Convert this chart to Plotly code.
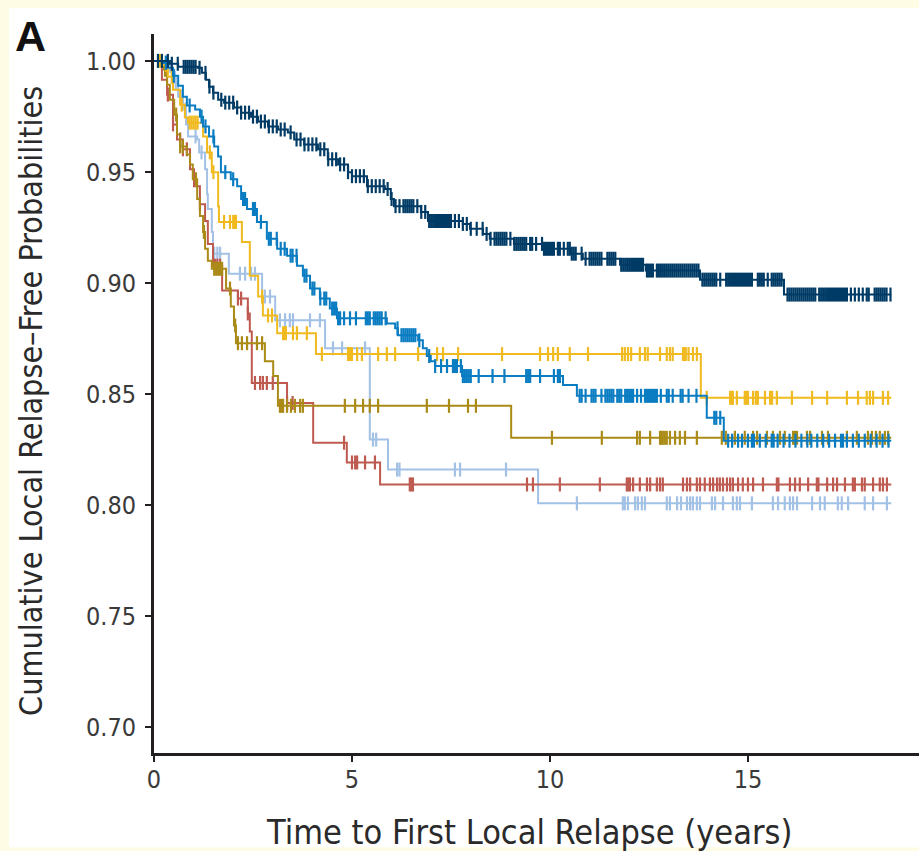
import plotly.graph_objects as go

# ---------------- data ----------------
x_tick_vals = [0, 5, 10, 15]
x_tick_text = ["0", "5", "10", "15"]
y_tick_vals = [0.70, 0.75, 0.80, 0.85, 0.90, 0.95, 1.00]
y_tick_text = ["0.70", "0.75", "0.80", "0.85", "0.90", "0.95", "1.00"]

follow_up_end = 18.62

# navy
navy_t = [0.40, 0.61, 1.11, 1.21, 1.31, 1.39, 1.49, 1.62, 1.77, 2.02, 2.20, 2.45, 2.63, 2.88,
          3.13, 3.38, 3.54, 3.79, 4.14, 4.39, 4.65, 4.90, 5.00, 5.38, 5.83, 5.98, 6.06, 6.74,
          6.92, 7.80, 7.98, 8.31, 8.48, 9.09, 9.82, 10.51, 10.83, 11.77, 12.42, 13.79, 15.91]
navy_s = [0.9987, 0.9973, 0.9969, 0.9946, 0.9915, 0.9884, 0.9857, 0.9825, 0.9812, 0.9790, 0.9767,
          0.9749, 0.9727, 0.9705, 0.9691, 0.9678, 0.9646, 0.9624, 0.9602, 0.9557, 0.9534, 0.9499,
          0.9481, 0.9436, 0.9423, 0.9378, 0.9346, 0.9320, 0.9279, 0.9266, 0.9244, 0.9221, 0.9199,
          0.9176, 0.9154, 0.9132, 0.9109, 0.9082, 0.9056, 0.9015, 0.8948]
navy_cens = [0.1, 0.2, 0.35, 0.45, 0.6, 0.75, 0.8, 0.85, 0.9, 0.95, 1.0, 1.05, 1.15, 1.3, 1.4,
             1.5, 1.7, 1.8, 1.9, 2.0, 2.1, 2.2, 2.3, 2.4, 2.5, 2.6, 2.7, 2.8, 2.9, 3.0, 3.1, 3.2,
             3.3, 3.45, 3.6, 3.7, 3.8, 3.9, 4.0, 4.1, 4.2, 4.3, 4.4, 4.5, 4.6, 4.7, 4.8, 4.9, 5.0,
             5.1, 5.2, 5.3, 5.4, 5.5, 5.6, 5.7, 5.8, 5.9, 6.0, 6.1, 6.2, 6.3, 6.35, 6.4, 6.45, 6.5,
             6.55, 6.65, 6.75, 6.85, 6.95, 7.0, 7.05, 7.1, 7.15, 7.2, 7.25, 7.3, 7.35, 7.4, 7.45,
             7.5, 7.6, 7.7, 7.8, 7.9, 8.0, 8.15, 8.3, 8.4, 8.5, 8.6, 8.65, 8.7, 8.75, 8.8, 8.85,
             8.9, 9.0, 9.1, 9.15, 9.2, 9.25, 9.3, 9.35, 9.4, 9.5, 9.55, 9.65, 9.8, 9.85, 9.9, 9.95,
             10.0, 10.05, 10.1, 10.2, 10.25, 10.35, 10.45, 10.5, 10.55, 10.6, 10.65, 10.8, 10.9,
             11.0, 11.05, 11.1, 11.15, 11.2, 11.25, 11.3, 11.45, 11.5, 11.55, 11.6, 11.65, 11.8,
             11.85, 11.9, 11.95, 12.0, 12.05, 12.1, 12.15, 12.2, 12.25, 12.3, 12.35, 12.45, 12.5,
             12.55, 12.6, 12.7, 12.75, 12.8, 12.85, 12.9, 12.95, 13.0, 13.05, 13.1, 13.15, 13.2,
             13.25, 13.3, 13.35, 13.4, 13.45, 13.5, 13.55, 13.6, 13.65, 13.7, 13.75, 13.85, 13.9,
             13.95, 14.0, 14.05, 14.1, 14.15, 14.2, 14.3, 14.45, 14.5, 14.55, 14.6, 14.65, 14.7,
             14.75, 14.8, 14.85, 14.9, 14.95, 15.0, 15.05, 15.1, 15.25, 15.3, 15.35, 15.4, 15.5,
             15.6, 15.65, 15.7, 15.75, 15.8, 15.85, 16.0, 16.05, 16.1, 16.15, 16.2, 16.25, 16.3,
             16.35, 16.4, 16.45, 16.5, 16.55, 16.6, 16.65, 16.7, 16.8, 16.85, 16.9, 16.95, 17.0,
             17.05, 17.1, 17.15, 17.2, 17.25, 17.3, 17.35, 17.4, 17.45, 17.5, 17.6, 17.7, 17.8,
             17.9, 18.0, 18.05, 18.2, 18.25, 18.3, 18.35, 18.4, 18.45, 18.5, 18.6]

# medium blue
blue_t = [0.20, 0.35, 0.48, 0.61, 0.73, 0.83, 1.04, 1.16, 1.24, 1.39, 1.52, 1.62, 1.69, 1.94,
          2.10, 2.20, 2.35, 2.60, 2.85, 3.11, 3.36, 3.61, 3.76, 3.94, 4.19, 4.44, 4.62, 5.88,
          6.09, 6.16, 6.67, 6.79, 6.89, 6.99, 7.10, 7.78, 10.33, 10.68, 13.96, 14.39]
blue_s = [0.9991, 0.9969, 0.9933, 0.9888, 0.9839, 0.9799, 0.9781, 0.9749, 0.9705, 0.9660, 0.9615,
          0.9570, 0.9499, 0.9467, 0.9436, 0.9378, 0.9333, 0.9275, 0.9199, 0.9154, 0.9123, 0.9078,
          0.9033, 0.8975, 0.8930, 0.8885, 0.8841, 0.8818, 0.8796, 0.8765, 0.8742, 0.8706, 0.8671,
          0.8648, 0.8626, 0.8581, 0.8541, 0.8492, 0.8393, 0.8290]
blue_cens = [0.3, 0.5, 0.9, 1.2, 1.3, 1.5, 1.8, 2.0, 2.25, 2.3, 2.5, 2.55, 2.7, 2.9, 2.95, 3.1,
             3.2, 3.3, 3.45, 3.5, 3.6, 3.8, 3.85, 4.0, 4.05, 4.2, 4.3, 4.35, 4.5, 4.55, 4.6, 4.65,
             4.7, 4.8, 4.95, 5.1, 5.35, 5.4, 5.45, 5.55, 5.6, 5.65, 5.7, 5.75, 5.85, 6.15, 6.25,
             6.3, 6.35, 6.4, 6.45, 6.5, 6.55, 6.6, 6.7, 6.95, 7.1, 7.25, 7.4, 7.55, 7.6, 7.65, 7.75,
             7.8, 7.85, 7.9, 7.95, 8.0, 8.2, 8.55, 8.85, 9.4, 9.45, 9.5, 9.75, 10.1, 10.2, 10.25,
             10.75, 10.8, 10.9, 11.05, 11.1, 11.15, 11.3, 11.4, 11.45, 11.5, 11.55, 11.6, 11.7,
             11.75, 11.8, 11.9, 11.95, 12.0, 12.05, 12.1, 12.2, 12.3, 12.4, 12.45, 12.5, 12.55,
             12.6, 12.65, 12.7, 12.8, 12.95, 13.0, 13.1, 13.3, 13.35, 13.5, 13.7, 14.15, 14.2, 14.3,
             14.5, 14.6, 14.75, 14.85, 15.0, 15.1, 15.15, 15.3, 15.45, 15.6, 15.65, 15.75, 15.9,
             16.05, 16.2, 16.35, 16.5, 16.6, 16.75, 16.9, 17.05, 17.2, 17.35, 17.4, 17.5, 17.65,
             17.8, 17.95, 18.1, 18.25, 18.4, 18.55]

# yellow
yellow_t = [0.23, 0.35, 0.48, 0.66, 0.78, 0.86, 1.24, 1.34, 1.46, 1.62, 1.64, 2.22, 2.42, 2.63,
            2.75, 3.11, 4.09, 13.81]
yellow_s = [0.9982, 0.9928, 0.9870, 0.9803, 0.9745, 0.9722, 0.9660, 0.9588, 0.9499, 0.9346,
            0.9275, 0.9185, 0.9033, 0.8939, 0.8854, 0.8774, 0.8680, 0.8483]
yellow_cens = [0.15, 0.3, 0.45, 0.7, 0.9, 0.95, 1.0, 1.05, 1.1, 1.41, 1.5, 1.77, 1.92, 2.0, 2.04,
               2.07, 2.73, 2.88, 2.98, 3.26, 3.3, 3.33, 3.51, 3.61, 3.86, 4.24, 4.9, 4.95, 5.0,
               5.13, 5.25, 5.66, 5.88, 6.09, 6.67, 7.15, 7.3, 7.68, 8.79, 9.75, 9.95, 10.08,
               10.2, 10.5, 10.96, 11.82, 11.89, 11.97, 12.05, 12.27, 12.4, 12.47, 12.78, 12.95,
               13.03, 13.1, 13.36, 13.4, 13.43, 13.5, 13.61, 13.71, 13.96, 14.55, 14.6, 14.62,
               14.72, 14.92, 14.96, 15.0, 15.13, 15.2, 15.25, 15.43, 15.56, 15.61, 15.73, 16.11,
               16.62, 17.0, 17.5, 17.78, 18.0, 18.08, 18.16, 18.41, 18.54]

# olive
olive_t = [0.15, 0.25, 0.33, 0.40, 0.51, 0.58, 0.66, 0.83, 0.91, 0.98, 1.09, 1.16, 1.24, 1.29,
           1.36, 1.46, 1.82, 1.94, 2.02, 2.07, 2.80, 3.01, 3.13, 9.02]
olive_s = [0.9996, 0.9960, 0.9893, 0.9825, 0.9758, 0.9669, 0.9615, 0.9579, 0.9534, 0.9467, 0.9378,
           0.9302, 0.9230, 0.9154, 0.9100, 0.9064, 0.8975, 0.8894, 0.8809, 0.8729, 0.8648, 0.8581,
           0.8447, 0.8303]
olive_cens = [0.28, 0.56, 0.66, 0.73, 1.06, 1.26, 1.52, 1.57, 1.62, 1.67, 1.72, 1.92, 2.05, 2.12,
              2.22, 2.35, 2.6, 2.73, 3.18, 3.22, 3.26, 3.36, 3.46, 3.56, 3.69, 3.76, 4.82, 5.08,
              5.28, 5.45, 5.66, 6.89, 7.45, 7.93, 8.13, 10.05, 11.31, 12.2, 12.27, 12.53, 12.78,
              12.82, 12.85, 12.9, 12.95, 13.03, 13.16, 13.28, 13.41, 13.71, 14.34, 14.44, 14.67,
              14.92, 15.13, 15.23, 15.48, 15.63, 15.81, 15.93, 16.14, 16.19, 16.24, 16.49, 16.57,
              16.87, 17.02, 17.5, 17.75, 18.03, 18.13, 18.23, 18.33, 18.46, 18.54]

# red
red_t = [0.15, 0.20, 0.33, 0.48, 0.58, 0.73, 0.91, 1.01, 1.16, 1.29, 1.36, 1.49, 1.72, 2.12,
         2.37, 2.42, 2.47, 3.36, 4.02, 4.87, 5.71]
red_s = [0.9996, 0.9915, 0.9848, 0.9714, 0.9646, 0.9602, 0.9512, 0.9436, 0.9355, 0.9279, 0.9176,
         0.9078, 0.8966, 0.8930, 0.8863, 0.8782, 0.8550, 0.8460, 0.8281, 0.8192, 0.8093]
red_cens = [0.35, 0.48, 0.66, 0.73, 0.83, 1.16, 1.54, 1.6, 1.67, 2.12, 2.2, 2.37, 2.55, 2.68,
            2.75, 2.85, 3.0, 3.36, 3.5, 4.8, 5.0, 5.08, 5.13, 5.33, 5.58, 6.46, 6.5, 6.54, 9.42,
            9.57, 10.25, 11.26, 11.94, 11.98, 12.02, 12.1, 12.27, 12.45, 12.53, 12.7, 12.78,
            12.85, 13.36, 13.46, 13.54, 13.71, 13.79, 13.91, 14.04, 14.12, 14.22, 14.29, 14.37,
            14.47, 14.55, 14.62, 14.75, 14.87, 15.0, 15.13, 15.38, 15.73, 15.77, 16.06, 16.19,
            16.31, 16.52, 16.74, 16.78, 17.0, 17.15, 17.25, 17.45, 17.65, 17.7, 17.88, 17.95,
            18.16, 18.33, 18.41, 18.51]

# light blue
lblue_t = [0.28, 0.40, 0.53, 0.61, 0.73, 0.81, 0.86, 1.09, 1.14, 1.29, 1.34, 1.36, 1.46, 1.49,
           1.89, 2.73, 3.06, 4.32, 5.45, 5.91, 9.70]
lblue_s = [0.9996, 0.9951, 0.9902, 0.9839, 0.9781, 0.9714, 0.9660, 0.9646, 0.9588, 0.9512, 0.9400,
           0.9333, 0.9230, 0.9132, 0.9042, 0.8939, 0.8832, 0.8706, 0.8295, 0.8160, 0.8008]
lblue_cens = [0.3, 0.55, 0.7, 0.8, 1.05, 1.2, 1.52, 1.6, 1.67, 2.17, 2.3, 2.45, 2.55, 2.8, 2.93,
              3.18, 3.31, 3.43, 3.51, 3.94, 4.19, 4.52, 4.75, 5.33, 5.53, 5.61, 6.14, 6.2, 7.6,
              7.73, 8.89, 10.68, 11.84, 11.89, 11.97, 12.15, 12.22, 12.32, 12.4, 12.95, 13.03,
              13.21, 13.31, 13.46, 13.54, 13.61, 13.71, 13.79, 14.09, 14.17, 14.37, 14.62, 14.72,
              14.8, 15.1, 15.63, 15.76, 15.93, 16.06, 16.14, 16.24, 16.62, 16.82, 16.94, 17.27,
              17.37, 17.53, 17.95, 18.16, 18.51]

series = [
    ("light blue", lblue_t, lblue_s, lblue_cens, "#A3C1E5"),
    ("red", red_t, red_s, red_cens, "#BE5A50"),
    ("olive", olive_t, olive_s, olive_cens, "#AA8B17"),
    ("yellow", yellow_t, yellow_s, yellow_cens, "#F0BA20"),
    ("blue", blue_t, blue_s, blue_cens, "#0A7CC2"),
    ("navy", navy_t, navy_s, navy_cens, "#003B66"),
]

# ---------------- figure ----------------
def step_value(ts, ss, t):
    val = 1.0
    for ti, si in zip(ts, ss):
        if ti <= t:
            val = si
        else:
            break
    return val

fig = go.Figure()
for name, ts, ss, cens, col in series:
    xs = [0.0] + list(ts) + [follow_up_end]
    ys = [1.0] + list(ss) + [ss[-1]]
    fig.add_trace(go.Scatter(x=xs, y=ys, mode="lines", line=dict(color=col, width=2, shape="hv"),
                             name=name, showlegend=False, hoverinfo="skip"))
    fig.add_trace(go.Scatter(x=cens, y=[step_value(ts, ss, c) for c in cens], mode="markers",
                             marker=dict(symbol="line-ns", size=10, color=col,
                                         line=dict(color=col, width=2.2)),
                             name=name + " censored", showlegend=False, hoverinfo="skip"))

axis_color = "#231F20"
tick_font = dict(family="DejaVu Sans Condensed, DejaVu Sans", size=25, color="#3A3A3A")

fig.update_layout(
    width=919, height=851, autosize=False,
    margin=dict(l=154, r=0, t=34, b=98, pad=0),
    paper_bgcolor="#FFFCE6",
    plot_bgcolor="white",
    showlegend=False,
    shapes=[dict(type="rect", xref="paper", yref="paper", x0=-0.1895, x1=1.02, y0=-0.131, y1=1.0361,
                 fillcolor="white", line=dict(width=0), layer="below")],
    xaxis=dict(range=[0, 19.32], tickvals=x_tick_vals, ticktext=x_tick_text,
               showline=True, linecolor=axis_color, linewidth=3, ticks="outside", ticklen=6,
               tickwidth=1.5, tickcolor=axis_color, showgrid=False, zeroline=False,
               tickfont=tick_font, ticklabelstandoff=-4),
    yaxis=dict(range=[0.6884, 1.0121], tickvals=y_tick_vals, ticktext=y_tick_text,
               showline=True, linecolor=axis_color, linewidth=3, ticks="outside", ticklen=6,
               tickwidth=1.5, tickcolor=axis_color, showgrid=False, zeroline=False,
               tickfont=tick_font, ticklabelstandoff=4),
    annotations=[
        dict(text="Time to First Local Relapse (years)", xref="paper", yref="paper",
             x=0.490, y=-0.1092, xanchor="center", yanchor="middle", showarrow=False,
             font=dict(family="DejaVu Sans Condensed, DejaVu Sans", size=34, color="#2A2A2A")),
        dict(text="Cumulative Local Relapse\u2013Free Probabilities", xref="paper", yref="paper",
             x=-0.1608, y=0.4896, xanchor="center", yanchor="middle", textangle=-90,
             showarrow=False,
             font=dict(family="DejaVu Sans Condensed, DejaVu Sans", size=32, color="#2A2A2A")),
        dict(text="<b>A</b>", xref="paper", yref="paper", x=-0.1608, y=0.9972,
             xanchor="center", yanchor="middle", showarrow=False,
             font=dict(family="Liberation Sans, Arial", size=43, color="#111111")),
    ],
)

fig.write_html(
    "out.html",
    config={"displayModeBar": False},
    post_script="document.body.style.margin='0px';document.body.style.overflow='hidden';"
                "document.body.style.background='#FFFCE6';",
)
